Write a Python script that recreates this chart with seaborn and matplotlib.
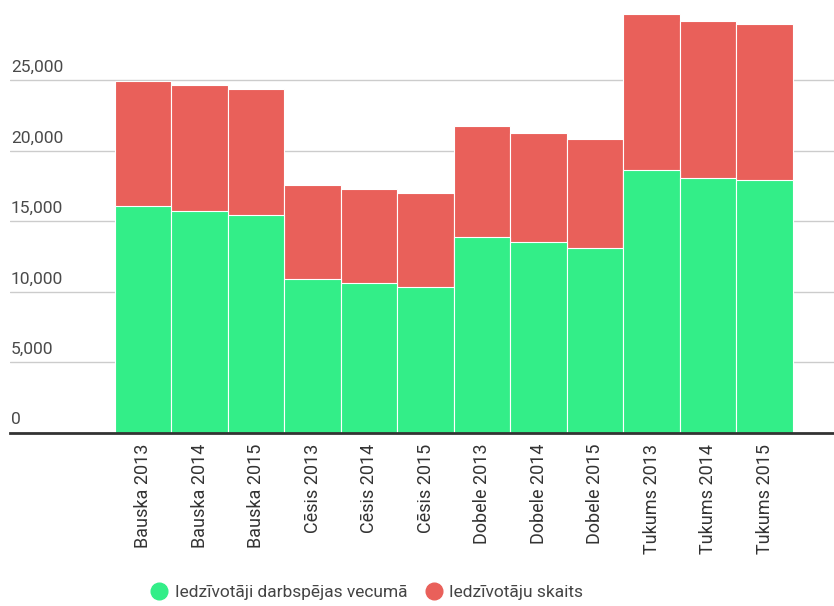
import pandas as pd
import matplotlib
matplotlib.use("Agg")
import matplotlib.pyplot as plt
import matplotlib.transforms as mtransforms
from matplotlib.lines import Line2D
import seaborn as sns

# data
labels = ["Bauska 2013", "Bauska 2014", "Bauska 2015",
          "Cēsis 2013", "Cēsis 2014", "Cēsis 2015",
          "Dobele 2013", "Dobele 2014", "Dobele 2015",
          "Tukums 2013", "Tukums 2014", "Tukums 2015"]
working_age = [16050, 15720, 15440, 10920, 10620, 10350,
               13900, 13520, 13100, 18630, 18090, 17900]
total = [24950, 24640, 24350, 17570, 17260, 17020,
         21730, 21260, 20830, 29690, 29220, 29010]
yticks = [0, 5000, 10000, 15000, 20000, 25000]
series_names = ["Iedzīvotāji darbspējas vecumā", "Iedzīvotāju skaits"]

green = "#33ee88"
red = "#e9605a"

df = pd.DataFrame({"label": labels, "working": working_age, "total": total})

sns.set_style("white")
plt.rcParams["font.family"] = ["Roboto", "DejaVu Sans"]

fig = plt.figure(figsize=(8.34, 6.06), dpi=100)
ax = fig.add_axes([10 / 834, 1 - 432.7 / 606, 824 / 834, 432.7 / 606])

# total drawn behind, working age in front
sns.barplot(data=df, x="label", y="total", color=red, width=1.0,
            edgecolor="white", linewidth=0.8, saturation=1, ax=ax, zorder=2)
sns.barplot(data=df, x="label", y="working", color=green, width=1.0,
            edgecolor="white", linewidth=0.8, saturation=1, ax=ax, zorder=3)

ax.set_xlim(-2.354, 12.23)
ax.set_ylim(0, 30690)
ax.set_xlabel("")
ax.set_ylabel("")

# gridlines + labels sitting above them
ax.set_yticks(yticks)
ax.set_yticklabels([])
ax.tick_params(axis="y", length=0)
ax.grid(axis="y", color="#cccccc", linewidth=1, zorder=0)
trans = mtransforms.blended_transform_factory(ax.transAxes, ax.transData)
for v in yticks:
    ax.text(0.001, v + 380, f"{v:,}", transform=trans, ha="left", va="bottom",
            fontsize=12.5, color="#4a4a4a")

ax.tick_params(axis="x", length=0, pad=8)
plt.setp(ax.get_xticklabels(), rotation=90, fontsize=13, color="#333333")

for s in ["top", "right", "left"]:
    ax.spines[s].set_visible(False)
ax.spines["bottom"].set_color("#333333")
ax.spines["bottom"].set_linewidth(2)
ax.spines["bottom"].set_zorder(5)

handles = [Line2D([], [], marker="o", linestyle="", markersize=12,
                  markerfacecolor=green, markeredgecolor=green),
           Line2D([], [], marker="o", linestyle="", markersize=12,
                  markerfacecolor=red, markeredgecolor=red)]
fig.legend(handles, series_names, loc="center", bbox_to_anchor=(0.44, 1 - 592 / 606),
           ncol=2, frameon=False, fontsize=12.5, labelcolor="#444444",
           handletextpad=0.4, columnspacing=1.0, handlelength=1.0)

fig.savefig("out.png", dpi=100)
